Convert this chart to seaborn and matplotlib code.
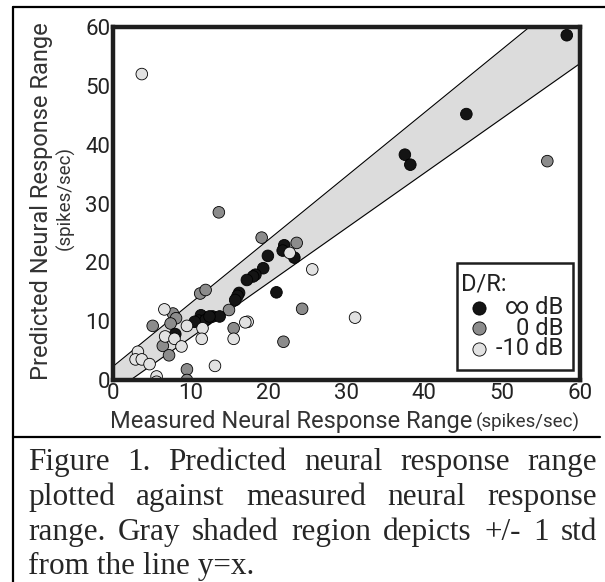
import numpy as np
import pandas as pd
import matplotlib
matplotlib.use("Agg")
import matplotlib.pyplot as plt
from matplotlib.patches import Rectangle
from matplotlib.lines import Line2D
import seaborn as sns

# D/R = infinite dB (black)
inf_x = [58.3, 45.4, 37.5, 38.2, 19.9, 22.0, 21.8, 23.3, 21.0, 19.3, 18.3, 18.0,
         17.2, 16.2, 16.0, 15.7, 11.3, 11.0, 11.9, 12.8, 13.7, 12.4, 8.0, 10.5]
inf_y = [58.6, 45.2, 38.3, 36.6, 21.1, 22.9, 22.0, 20.8, 14.9, 19.0, 17.9, 17.6,
         17.0, 14.8, 14.3, 13.6, 11.0, 10.1, 10.2, 10.8, 10.8, 10.8, 7.8, 9.9]
# D/R = 0 dB (gray)
zero_x = [55.8, 13.6, 19.1, 23.6, 11.2, 11.9, 24.3, 14.9, 7.7, 8.1, 7.4, 5.1,
          15.5, 21.9, 6.4, 7.2, 9.5, 9.5]
zero_y = [37.2, 28.5, 24.2, 23.3, 14.7, 15.3, 12.1, 11.9, 11.3, 10.5, 9.6, 9.2,
          8.8, 6.5, 5.8, 4.2, 1.8, 0.0]
# D/R = -10 dB (light)
m10_x = [3.7, 25.6, 22.7, 31.1, 17.3, 17.0, 15.5, 6.6, 9.5, 11.5, 11.4, 13.1,
         6.7, 7.9, 8.8, 3.2, 2.9, 3.7, 4.7, 5.6, 5.6]
m10_y = [52.0, 18.8, 21.6, 10.6, 9.9, 9.8, 7.0, 12.0, 9.2, 8.8, 7.0, 2.4,
         7.4, 7.0, 5.7, 4.8, 3.5, 3.5, 2.7, 0.6, -0.3]

# +/- 1 std band around y = x
band_x = [0, 60]
band_hi = [2.3, 67.0]
band_lo = [-2.1, 53.8]

dr_labels = ["\u221e dB", "0 dB", "-10 dB"]
dr_colors = ["#141414", "#8c8c8c", "#e2e2e2"]

caption = ["Figure 1. Predicted neural response range",
           "plotted against measured neural response",
           "range. Gray shaded region depicts +/- 1 std",
           "from the line y=x."]

df = pd.concat([
    pd.DataFrame({"measured": zero_x, "predicted": zero_y, "dr": dr_labels[1]}),
    pd.DataFrame({"measured": inf_x, "predicted": inf_y, "dr": dr_labels[0]}),
    pd.DataFrame({"measured": m10_x, "predicted": m10_y, "dr": dr_labels[2]}),
], ignore_index=True)

sns.set_style("white")
plt.rcParams["font.family"] = ["Roboto", "DejaVu Sans"]

W, H = 605, 582
fig = plt.figure(figsize=(W / 100, H / 100), dpi=100)
ax = fig.add_axes([113 / W, 1 - 380 / H, 467 / W, 353 / H])

ax.fill_between(band_x, band_lo, band_hi, color="#dcdcdc", lw=0, zorder=0)
ax.plot(band_x, band_hi, color="black", lw=0.8, zorder=1)
ax.plot(band_x, band_lo, color="black", lw=0.8, zorder=1)

sns.scatterplot(data=df, x="measured", y="predicted", hue="dr",
                palette=dict(zip(dr_labels, dr_colors)), s=70,
                edgecolor="black", linewidth=0.6, legend=False, ax=ax, zorder=3)

ax.set_xlim(0, 60)
ax.set_ylim(0, 60)
ax.set_xticks(range(0, 61, 10))
ax.set_yticks(range(0, 61, 10))
ax.tick_params(length=0, labelsize=16, colors="#222222", pad=2)
ax.set_xlabel("")
ax.set_ylabel("")
for sp in ax.spines.values():
    sp.set_linewidth(3.2)
    sp.set_color("#1e1e1e")
    sp.set_zorder(5)

# legend box
ax.add_patch(Rectangle((0.736, 0.028), 0.249, 0.303, transform=ax.transAxes,
                       facecolor="white", edgecolor="#1e1e1e", lw=1.8, zorder=6))
ax.text(0.745, 0.272, "D/R:", transform=ax.transAxes, fontsize=17,
        ha="left", va="center", color="#222222", zorder=7)
for yy, lab, col in zip([0.204, 0.147, 0.088], dr_labels, dr_colors):
    ax.plot([0.783], [yy], "o", ms=9.5, mfc=col, mec="black", mew=0.6,
            transform=ax.transAxes, clip_on=False, zorder=7)
    ax.text(0.964, yy, lab, transform=ax.transAxes, fontsize=17,
            ha="right", va="center", color="#222222", zorder=7)

# axis labels
fig.text(42 / W, 1 - 201 / H, "Predicted Neural Response Range", rotation=90,
         fontsize=17, ha="center", va="center", color="#333333")
fig.text(65 / W, 1 - 198 / H, "(spikes/sec)", rotation=90,
         fontsize=13.5, ha="center", va="center", color="#333333")
fig.text(472 / W, 1 - 428 / H, "Measured Neural Response Range",
         fontsize=17, ha="right", va="baseline", color="#333333")
fig.text(476 / W, 1 - 428 / H, "(spikes/sec)",
         fontsize=13.5, ha="left", va="baseline", color="#333333")

# frame lines
fig.add_artist(Line2D([12.7 / W, 1], [1 - 7 / H, 1 - 7 / H], color="black", lw=1.6))
fig.add_artist(Line2D([12.7 / W, 12.7 / W], [1 - 7 / H, 0], color="black", lw=1.6))
fig.add_artist(Line2D([12.7 / W, 600 / W], [1 - 437 / H, 1 - 437 / H], color="black", lw=1.6))

# justified caption
serif = ["Liberation Serif", "DejaVu Serif"]
cap_size = 22.5
left_px, right_px = 28, 597
baselines = [470, 505, 540, 574]
fig.canvas.draw()
renderer = fig.canvas.get_renderer()
for i, (line, base) in enumerate(zip(caption, baselines)):
    yf = 1 - base / H
    if i == len(caption) - 1:
        fig.text(left_px / W, yf, line, family=serif, fontsize=cap_size,
                 ha="left", va="baseline")
        continue
    words = line.split(" ")
    objs = [fig.text(0, yf, w, family=serif, fontsize=cap_size,
                     ha="left", va="baseline") for w in words]
    widths = [o.get_window_extent(renderer).width for o in objs]
    gap = (right_px - left_px - sum(widths)) / (len(words) - 1)
    x = left_px
    for o, wd in zip(objs, widths):
        o.set_x(x / W)
        x += wd + gap

fig.savefig("out.png", dpi=100)
